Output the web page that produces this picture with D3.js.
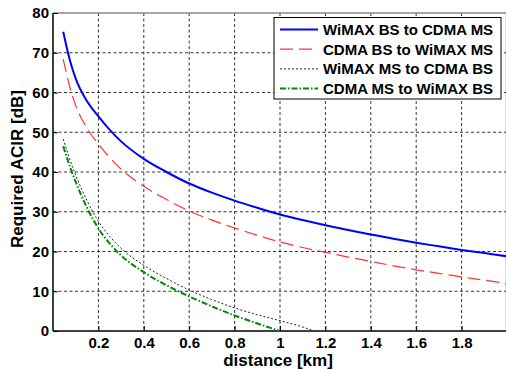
<!DOCTYPE html>
<html>
<head>
<meta charset="utf-8">
<script src="https://cdn.jsdelivr.net/npm/d3@7/dist/d3.min.js"></script>
<style>
  html, body { margin: 0; padding: 0; background: #fff; }
  svg { display: block; }
  text { font-family: "Liberation Sans", Arial, sans-serif; font-weight: bold; fill: #000; }
</style>
</head>
<body>
<svg id="chart" width="506" height="369"></svg>
<script>
// ---- data ----
const seriesNames = ["WiMAX BS to CDMA MS", "CDMA BS to WiMAX MS", "WiMAX MS to CDMA BS", "CDMA MS to WiMAX BS"];

const distLong = [0.045, 0.075, 0.1, 0.15, 0.2, 0.25, 0.3, 0.4, 0.5, 0.6, 0.7, 0.8, 0.9, 1.0, 1.1, 1.2, 1.3, 1.4, 1.5, 1.6, 1.7, 1.8, 1.9, 2.0];
const wimaxBsToCdmaMs = [75.3, 68.0, 63.5, 57.8, 54.0, 50.6, 47.7, 43.3, 40.0, 37.1, 34.8, 32.8, 31.0, 29.3, 27.9, 26.6, 25.4, 24.3, 23.2, 22.2, 21.3, 20.4, 19.6, 18.8];
const cdmaBsToWimaxMs = [68.4, 61.2, 56.7, 51.0, 47.0, 43.6, 40.7, 36.4, 33.1, 30.2, 27.9, 25.9, 24.1, 22.4, 21.0, 19.8, 18.6, 17.5, 16.4, 15.4, 14.5, 13.6, 12.8, 11.9];

const distBlack = [0.045, 0.075, 0.1, 0.15, 0.2, 0.25, 0.3, 0.4, 0.5, 0.6, 0.7, 0.8, 0.9, 1.0, 1.1, 1.15];
const wimaxMsToCdmaBs = [48.3, 43.0, 39.2, 32.8, 27.6, 23.8, 20.8, 16.5, 13.2, 10.3, 7.9, 5.8, 4.1, 2.6, 1.0, 0.0];

const distGreen = [0.045, 0.075, 0.1, 0.15, 0.2, 0.25, 0.3, 0.4, 0.5, 0.6, 0.7, 0.8, 0.9, 1.0];
const cdmaMsToWimaxBs = [46.5, 41.3, 37.5, 31.0, 25.8, 22.0, 19.0, 14.8, 11.5, 8.7, 6.2, 3.9, 1.9, 0.0];

const xTicks = [0.2, 0.4, 0.6, 0.8, 1.0, 1.2, 1.4, 1.6, 1.8];
const yTicks = [0, 10, 20, 30, 40, 50, 60, 70, 80];
const xTickLabels = ["0.2", "0.4", "0.6", "0.8", "1", "1.2", "1.4", "1.6", "1.8"];

// ---- layout ----
const svg = d3.select("#chart");
const L = 53, R = 507, T = 13, B = 331;
const x = d3.scaleLinear().domain([0, 2]).range([L, R]);
const y = d3.scaleLinear().domain([0, 80]).range([B, T]);

svg.append("defs").append("clipPath").attr("id", "clip")
  .append("rect").attr("x", L).attr("y", T - 1).attr("width", R - L).attr("height", B - T + 2);

// grid
const grid = svg.append("g");
grid.selectAll("line.gx").data(xTicks).join("line")
  .attr("x1", d => x(d)).attr("x2", d => x(d)).attr("y1", T).attr("y2", B)
  .attr("stroke", "#333").attr("stroke-width", 1).attr("stroke-dasharray", "3,2.5");
grid.selectAll("line.gy").data(yTicks.slice(1, -1)).join("line")
  .attr("x1", L).attr("x2", R).attr("y1", d => y(d)).attr("y2", d => y(d))
  .attr("stroke", "#333").attr("stroke-width", 1).attr("stroke-dasharray", "3,2.5");

// box top/right (gray)
svg.append("line").attr("x1", L).attr("x2", R).attr("y1", T).attr("y2", T)
  .attr("stroke", "#888").attr("stroke-width", 1.5);
svg.append("line").attr("x1", R - 0.5).attr("x2", R - 0.5).attr("y1", T).attr("y2", B)
  .attr("stroke", "#888").attr("stroke-width", 1.5);

// axes with inner ticks
const xAxis = d3.axisBottom(x).tickValues(xTicks).tickSizeInner(-5).tickSizeOuter(0)
  .tickPadding(6).tickFormat((d, i) => xTickLabels[i]);
const gx = svg.append("g").attr("transform", `translate(0,${B})`).call(xAxis);
gx.select(".domain").attr("stroke", "#000").attr("stroke-width", 1.5).attr("d", `M${L},0H${R}`);
gx.selectAll(".tick line").attr("stroke", "#000");
gx.selectAll(".tick text").attr("font-size", 15).attr("font-family", "Liberation Sans, Arial, sans-serif").attr("font-weight", "bold").attr("fill", "#000");

const yAxis = d3.axisLeft(y).tickValues(yTicks).tickSizeInner(-5).tickSizeOuter(0)
  .tickPadding(4).tickFormat(d3.format("d"));
const gy = svg.append("g").attr("transform", `translate(${L},0)`).call(yAxis);
gy.select(".domain").attr("stroke", "#000").attr("stroke-width", 1.5).attr("d", `M0,${B}V${T}`);
gy.selectAll(".tick line").attr("stroke", "#000");
gy.selectAll(".tick text").attr("font-size", 15).attr("font-family", "Liberation Sans, Arial, sans-serif").attr("font-weight", "bold").attr("fill", "#000");

// axis labels
svg.append("text").attr("x", (L + R) / 2 - 2).attr("y", 366).attr("text-anchor", "middle")
  .attr("font-size", 17).text("distance [km]");
svg.append("text").attr("transform", `translate(23,${(T + B) / 2 - 3}) rotate(-90)`)
  .attr("text-anchor", "middle").attr("font-size", 17).text("Required ACIR [dB]");

// series
const styles = [
  { color: "#0000ff", width: 2, dash: null },
  { color: "#ff3333", width: 1.2, dash: "13,6" },
  { color: "#222", width: 1, dash: "2,2" },
  { color: "#008800", width: 2, dash: "6,2,1.5,2" }
];
const series = [
  { xs: distLong, ys: wimaxBsToCdmaMs },
  { xs: distLong, ys: cdmaBsToWimaxMs },
  { xs: distBlack, ys: wimaxMsToCdmaBs },
  { xs: distGreen, ys: cdmaMsToWimaxBs }
];
const line = d3.line().x(d => x(d[0])).y(d => y(d[1])).curve(d3.curveMonotoneX);
const plot = svg.append("g").attr("clip-path", "url(#clip)");
[0, 1, 3, 2].forEach(i => {
  const s = series[i], st = styles[i];
  plot.append("path").datum(s.xs.map((v, j) => [v, s.ys[j]]))
    .attr("d", line).attr("fill", "none")
    .attr("stroke", st.color).attr("stroke-width", st.width)
    .attr("stroke-dasharray", st.dash);
});

// legend
const lg = svg.append("g");
lg.append("rect").attr("x", 274).attr("y", 17.5).attr("width", 227).attr("height", 81.5)
  .attr("fill", "#fff").attr("stroke", "#000").attr("stroke-width", 1);
seriesNames.forEach((name, i) => {
  const cy = 29.5 + i * 19.7;
  const st = styles[i];
  lg.append("line").attr("x1", 280).attr("x2", 318).attr("y1", cy).attr("y2", cy)
    .attr("stroke", st.color).attr("stroke-width", st.width).attr("stroke-dasharray", st.dash);
  lg.append("text").attr("x", 323).attr("y", cy + 5.5).attr("font-size", 15).text(name);
});
</script>
</body>
</html>
